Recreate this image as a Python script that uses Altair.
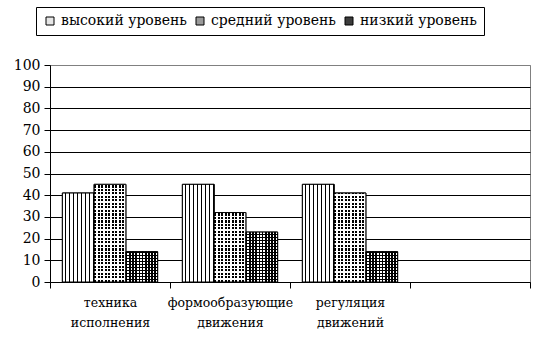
import altair as alt
import pandas as pd

categories = ["техника исполнения", "формообразующие движения", "регуляция движений", ""]
series = ["высокий уровень", "средний уровень", "низкий уровень"]
high = [41, 45, 45]
medium = [45, 32, 41]
low = [14, 23, 14]
y_ticks = list(range(0, 101, 10))
Y_MAX = 100

rows = []
for s, vals in zip(series, [high, medium, low]):
    for c, v in zip(categories[:3], vals):
        rows.append({"category": c, "series": s, "value": v})
df = pd.DataFrame(rows)

FONT = "DejaVu Serif"


def stripe_stops(n, c1, frac, c2):
    stops = []
    for i in range(n):
        a = i / n
        b = (i + frac) / n
        c = (i + 1) / n
        stops += [(a, c1), (b, c1), (b, c2), (c, c2)]
    return stops


def col_gradient(stops):
    return alt.LinearGradient(
        gradient="linear",
        stops=[alt.GradientStop(color=c, offset=round(o, 5)) for o, c in stops],
        x1=0, y1=0, x2=1, y2=0,
    )


def row_gradient_expr(stops):
    st = ", ".join("{offset: %.5f, color: '%s'}" % (o, c) for o, c in stops)
    return ("{gradient: 'linear', x1: 0, x2: 0, y1: 1 - %d / datum.value, y2: 1, stops: [%s]}"
            % (Y_MAX, st))


x_enc = alt.X(
    "category:N",
    sort=categories,
    scale=alt.Scale(domain=categories, paddingInner=0, paddingOuter=0),
    axis=alt.Axis(
        title=None, labelAngle=0, tickBand="extent", tickSize=6, tickColor="black",
        domainColor="black", labelFontSize=12.5, labelColor="black",
        labelExpr="split(datum.label, ' ')", labelLineHeight=20, labelPadding=8, grid=False,
    ),
)
xo_enc = alt.XOffset(
    "series:N", sort=series,
    scale=alt.Scale(domain=series, paddingInner=0, paddingOuter=0.39),
)
y_enc = alt.Y(
    "value:Q",
    scale=alt.Scale(domain=[0, Y_MAX], nice=False),
    axis=alt.Axis(
        title=None, values=y_ticks, grid=True,
        gridColor=alt.condition("datum.value === 100", alt.value("#808080"), alt.value("black")),
        gridWidth=1, domainColor="black", tickColor="black", tickSize=6,
        labelFontSize=14, labelColor="black", labelPadding=4,
    ),
)

base = alt.Chart(df).mark_bar(stroke="black", strokeWidth=1).encode(
    x=x_enc, xOffset=xo_enc, y=y_enc,
    fill=alt.Fill(
        "series:N", sort=series,
        scale=alt.Scale(domain=series, range=["#e6e6e6", "#9a9a9a", "#3c3c3c"]),
        legend=alt.Legend(
            title=None, orient="none", legendX=-14, legendY=-58, direction="horizontal",
            symbolType="square", symbolSize=64, symbolStrokeColor="black", symbolStrokeWidth=1,
            labelFontSize=14, labelColor="black", labelOffset=4,
            columnPadding=6, padding=7, strokeColor="black", fillColor="white",
        ),
    ),
)


def sub(name):
    return alt.Chart(df).transform_filter(alt.datum.series == name)


high_layer = sub(series[0]).mark_bar(
    fill=col_gradient(stripe_stops(8, "white", 0.72, "black")), stroke="black", strokeWidth=1
).encode(x=x_enc, xOffset=xo_enc, y=y_enc)

med_a = sub(series[1]).mark_bar(
    fill=col_gradient(stripe_stops(9, "black", 0.55, "white"))
).encode(x=x_enc, xOffset=xo_enc, y=y_enc)
med_b = sub(series[1]).mark_bar(stroke="black", strokeWidth=1).encode(
    x=x_enc, xOffset=xo_enc, y=y_enc,
    fill={"value": {"expr": row_gradient_expr(stripe_stops(62, "white", 0.4, "transparent"))}},
)

low_a = sub(series[2]).mark_bar().encode(
    x=x_enc, xOffset=xo_enc, y=y_enc,
    fill={"value": {"expr": row_gradient_expr(stripe_stops(72, "black", 0.5, "white"))}},
)
low_b = sub(series[2]).mark_bar(
    fill=col_gradient(stripe_stops(10, "black", 0.5, "transparent")), stroke="black", strokeWidth=1
).encode(x=x_enc, xOffset=xo_enc, y=y_enc)

chart = alt.layer(base, high_layer, med_a, med_b, low_a, low_b).properties(
    width=480, height=217,
    padding={"left": 50, "top": 65, "right": 16, "bottom": 66},
    autosize=alt.AutoSizeParams(type="none"),
    background="white",
).configure(font=FONT).configure_axis(labelFont=FONT).configure_legend(labelFont=FONT).configure_view(
    stroke="#808080", strokeWidth=1
)

chart.save("out.html", embed_options={"renderer": "svg", "actions": False})
